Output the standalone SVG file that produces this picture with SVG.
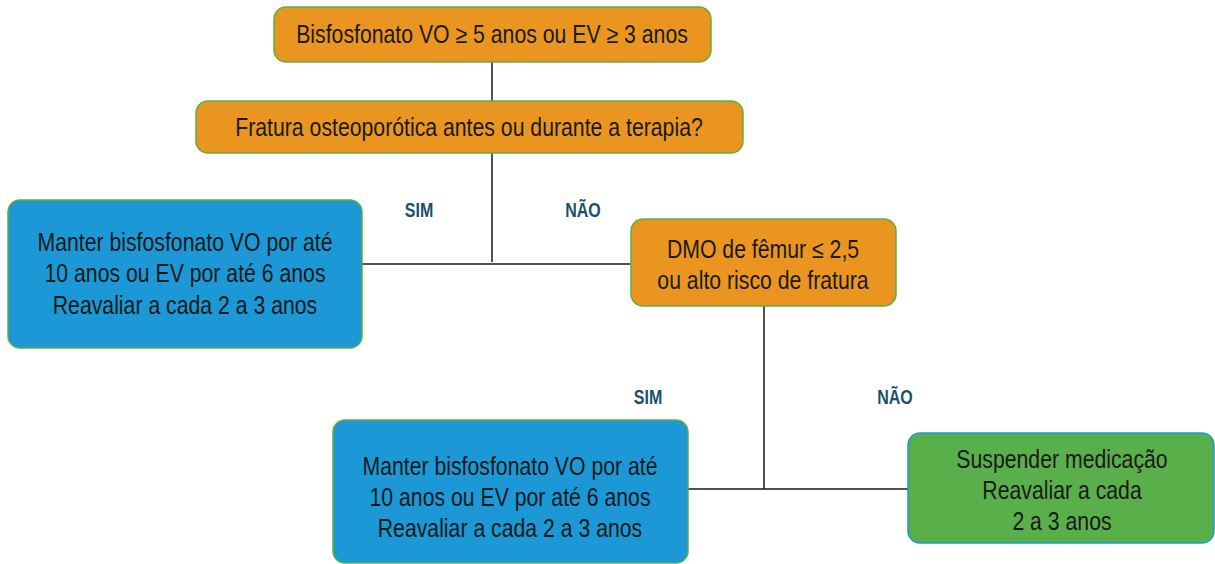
<svg xmlns="http://www.w3.org/2000/svg" width="1215" height="564" viewBox="0 0 1215 564">
<style>
.or{fill:#EA951F;stroke:#5DB043;stroke-width:1.5}
.bl{fill:#1B98D5;stroke:#5DB043;stroke-width:1.5}
.gr{fill:#59B04A;stroke:#1B98D5;stroke-width:1.5}
.t{font-family:"Liberation Sans",Arial,sans-serif;font-size:25px;fill:#1a1a1a;text-anchor:middle}
.lb{font-family:"Liberation Sans",Arial,sans-serif;font-size:20px;font-weight:bold;fill:#1B4F6B;text-anchor:middle}
.c{stroke:#1a1a1a;stroke-width:1.5;fill:none}
</style>
<rect width="1215" height="564" fill="#fff"/>
<g id="connectors">
<path class="c" d="M492 62V101M492 153V262M362 264H631M764 306V489M688 489H908"/>
</g>
<g id="labels">
<text class="lb" transform="translate(419,217) scale(0.8,1)">SIM</text>
<text class="lb" transform="translate(583,217) scale(0.8,1)">NÃO</text>
<text class="lb" transform="translate(648,404) scale(0.8,1)">SIM</text>
<text class="lb" transform="translate(895,404) scale(0.8,1)">NÃO</text>
</g>
<g id="n1"><rect class="or" x="274" y="7" width="437" height="55" rx="12"/>
<text class="t" transform="translate(492,43) scale(0.85,1)">Bisfosfonato VO ≥ 5 anos ou EV ≥ 3 anos</text></g>
<g id="n2"><rect class="or" x="196" y="101" width="547" height="52" rx="12"/>
<text class="t" transform="translate(469,136) scale(0.85,1)">Fratura osteoporótica antes ou durante a terapia?</text></g>
<g id="n3"><rect class="bl" x="8" y="200" width="354" height="148" rx="12"/>
<text class="t" transform="translate(185,251) scale(0.85,1)">Manter bisfosfonato VO por até</text>
<text class="t" transform="translate(185,282) scale(0.85,1)">10 anos ou EV por até 6 anos</text>
<text class="t" transform="translate(185,314) scale(0.85,1)">Reavaliar a cada 2 a 3 anos</text></g>
<g id="n4"><rect class="or" x="631" y="219" width="265" height="87" rx="12"/>
<text class="t" transform="translate(763,258) scale(0.85,1)">DMO de fêmur ≤ 2,5</text>
<text class="t" transform="translate(763,289) scale(0.85,1)">ou alto risco de fratura</text></g>
<g id="n5"><rect class="bl" x="333" y="420" width="355" height="143" rx="12"/>
<text class="t" transform="translate(510,475) scale(0.85,1)">Manter bisfosfonato VO por até</text>
<text class="t" transform="translate(510,506) scale(0.85,1)">10 anos ou EV por até 6 anos</text>
<text class="t" transform="translate(510,537) scale(0.85,1)">Reavaliar a cada 2 a 3 anos</text></g>
<g id="n6"><rect class="gr" x="908" y="433" width="306" height="110" rx="12"/>
<text class="t" transform="translate(1062,468) scale(0.85,1)">Suspender medicação</text>
<text class="t" transform="translate(1062,499) scale(0.85,1)">Reavaliar a cada</text>
<text class="t" transform="translate(1062,530) scale(0.85,1)">2 a 3 anos</text></g>
</svg>
